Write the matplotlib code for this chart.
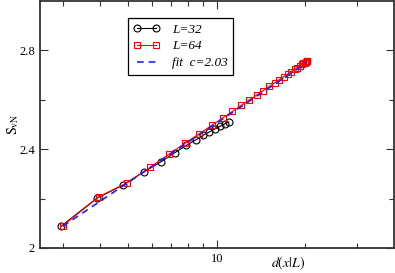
import numpy as np
import matplotlib
matplotlib.use("Agg")
import matplotlib.pyplot as plt

plt.rcParams['font.family'] = ['Liberation Serif', 'DejaVu Serif']
plt.rcParams['mathtext.fontset'] = 'stix'

# L=32 : distancia d(x|L) e entropia
d32 = [2.957, 3.898, 4.802, 5.659, 6.462, 7.203, 7.874, 8.47, 8.98, 9.45, 9.9, 10.3, 10.65, 11.0]
s32 = [2.089, 2.201, 2.255, 2.309, 2.349, 2.386, 2.415, 2.437, 2.456, 2.470, 2.483, 2.494, 2.503, 2.510]

# L=64
d64 = [2.989, 3.974, 4.95, 5.914, 6.863, 7.796, 8.71, 9.603, 10.473, 11.318,
       12.136, 12.924, 13.681, 14.405, 15.095, 15.748, 16.363, 16.939, 17.474, 17.966,
       18.416, 18.821, 19.181, 19.495, 19.762, 19.981, 20.152, 20.274, 20.348, 20.372]
s64 = [2.090, 2.208, 2.264, 2.326, 2.379, 2.424, 2.462, 2.496, 2.526, 2.553,
       2.578, 2.600, 2.619, 2.637, 2.654, 2.668, 2.682, 2.694, 2.705, 2.714,
       2.723, 2.730, 2.737, 2.743, 2.747, 2.751, 2.754, 2.756, 2.758, 2.758]

# reta do ajuste (extremos)
dfit = [2.99, 20.37]
sfit = [2.088, 2.752]

fig = plt.figure(figsize=(3.95, 2.73), dpi=100)
ax = fig.add_axes([40/395, 25/273, 354/395, 247/273])

ax.plot(d32, s32, '-o', color='black', lw=0.8, ms=5, mfc='none', mew=0.8, label='L=32')
ax.plot(d64, s64, '-s', color='red', lw=0.8, ms=4.5, mfc='none', mew=0.8, label='L=64')
ax.plot(dfit, sfit, '--', color='#2020ff', lw=1.2, dashes=(4, 3), label='fit  c=2.03')

ax.set_xscale('log')
ax.set_xlim(2.5, 40.2)
ax.set_ylim(2, 3)
ax.set_xticks([10])
ax.set_xticklabels(['10'])
ax.set_xticks([3, 4, 5, 6, 7, 8, 9, 20, 30], minor=True)
ax.xaxis.set_minor_formatter(matplotlib.ticker.NullFormatter())
ax.set_yticks([2, 2.4, 2.8])
ax.set_yticklabels(['2', '2.4', '2.8'])
ax.set_yticks([2.2, 2.6], minor=True)

ax.tick_params(which='both', direction='in', top=True, right=True, labelsize=9, width=0.8, colors='#333333', labelcolor='black')
ax.tick_params(which='major', length=6)
ax.tick_params(which='minor', length=3.5)
for sp in ax.spines.values():
    sp.set_linewidth(1.3)
    sp.set_color('#333333')

ax.set_xlabel(r'$d(x|L)$', fontsize=10)
ax.xaxis.set_label_coords(0.70, -0.025)
ax.set_ylabel(r'$\mathrm{S}_{\mathrm{vN}}$', fontsize=10)
ax.yaxis.set_label_coords(-0.055, 0.5)

leg = ax.legend(loc='upper left', bbox_to_anchor=(0.249, 0.931), borderaxespad=0,
                fancybox=False, edgecolor='black', framealpha=1, numpoints=2,
                handlelength=2.0, handletextpad=0.9, labelspacing=0.35,
                prop={'style': 'italic', 'size': 9.5})
leg.get_frame().set_linewidth(0.9)

fig.savefig('out.png', dpi=100)
